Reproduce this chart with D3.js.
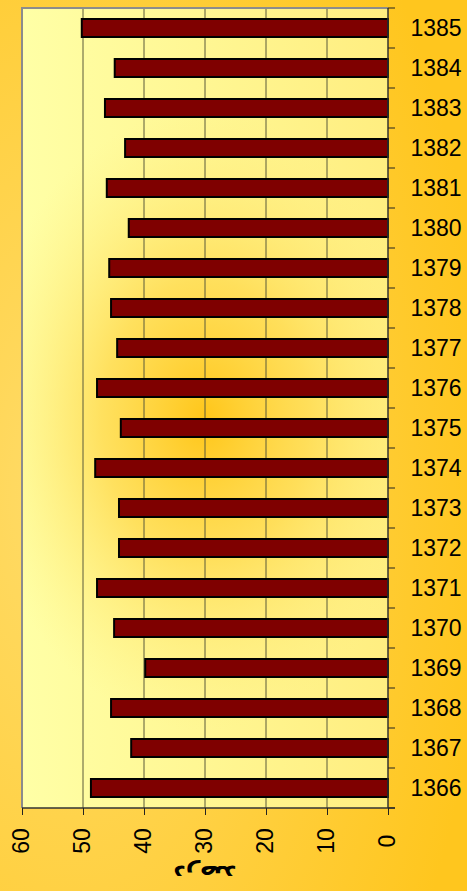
<!DOCTYPE html>
<html>
  <head>
    <style>
      body { margin: 0; }
      svg { display: block; }
      .tick-label { font: 23px "Liberation Sans", Arial, sans-serif; fill: #000; }
      .bar { fill: #7f0000; stroke: #000; stroke-width: 2; }
    </style>
  </head>
  <body>
    <script src="https://d3js.org/d3.v7.min.js"></script>
    <svg></svg>
    <script>
      // years, bottom to top
      const years = [1366, 1367, 1368, 1369, 1370, 1371, 1372, 1373, 1374, 1375,
                     1376, 1377, 1378, 1379, 1380, 1381, 1382, 1383, 1384, 1385];
      const values = [48.7, 42.1, 45.4, 39.8, 44.9, 47.7, 44.1, 44.1, 48.0, 43.8,
                      47.7, 44.4, 45.4, 45.7, 42.5, 46.1, 43.1, 46.4, 44.8, 50.2];
      const xTicks = [0, 10, 20, 30, 40, 50, 60];
      const axisTitle = "درصد";

      const W = 467, H = 891;
      const plot = { left: 22, right: 388, top: 8, bottom: 808 };

      const svg = d3.select("svg").attr("width", W).attr("height", H);
      const defs = svg.append("defs");

      // outer background
      const bg = defs.append("radialGradient").attr("id", "bg")
        .attr("cx", "0.15").attr("cy", "0.55").attr("r", "0.9");
      bg.append("stop").attr("offset", "0").attr("stop-color", "#ffdc6a");
      bg.append("stop").attr("offset", "1").attr("stop-color", "#ffc61e");
      svg.append("rect").attr("width", W).attr("height", H).attr("fill", "url(#bg)");

      // plot area: pale yellow, warmer to the right, orange glow in the middle
      const pa = defs.append("linearGradient").attr("id", "pa");
      pa.append("stop").attr("offset", "0").attr("stop-color", "#ffffa6");
      pa.append("stop").attr("offset", "1").attr("stop-color", "#ffee80");
      const glow = defs.append("radialGradient").attr("id", "glow")
        .attr("gradientUnits", "userSpaceOnUse")
        .attr("cx", 205).attr("cy", 420).attr("r", 230)
        .attr("gradientTransform", "translate(205,420) scale(1,1.35) translate(-205,-420)");
      glow.append("stop").attr("offset", "0").attr("stop-color", "#ffc619").attr("stop-opacity", 1);
      glow.append("stop").attr("offset", "0.45").attr("stop-color", "#ffd84a").attr("stop-opacity", 0.75);
      glow.append("stop").attr("offset", "1").attr("stop-color", "#ffee80").attr("stop-opacity", 0);

      const pw = plot.right - plot.left, ph = plot.bottom - plot.top;
      svg.append("rect").attr("x", plot.left).attr("y", plot.top)
        .attr("width", pw).attr("height", ph).attr("fill", "url(#pa)");
      svg.append("rect").attr("x", plot.left).attr("y", plot.top)
        .attr("width", pw).attr("height", ph).attr("fill", "url(#glow)");

      const x = d3.scaleLinear().domain([60, 0]).range([plot.left, plot.right]);
      const y = d3.scaleBand().domain(years.slice().reverse())
        .range([plot.top, plot.bottom]).paddingInner(0.55).paddingOuter(0.275);
      const yb = d3.scaleBand().domain(years.slice().reverse())
        .range([plot.top, plot.bottom]);

      // gridlines
      svg.append("g").selectAll("line")
        .data(xTicks.filter(d => d > 0 && d < 60))
        .join("line")
        .attr("x1", d => x(d)).attr("x2", d => x(d))
        .attr("y1", plot.top).attr("y2", plot.bottom)
        .attr("stroke", "#5a5a3a").attr("stroke-width", 1);

      // plot border (left/top gray)
      svg.append("path")
        .attr("d", `M${plot.left},${plot.bottom}V${plot.top}H${plot.right}`)
        .attr("fill", "none").attr("stroke", "#8c8c8c").attr("stroke-width", 2);

      // bars
      svg.append("g").selectAll("rect")
        .data(years.map((yr, i) => ({ yr, v: values[i] })))
        .join("rect")
        .attr("class", "bar")
        .attr("x", d => x(d.v))
        .attr("y", d => y(d.yr))
        .attr("width", d => x(0) - x(d.v))
        .attr("height", y.bandwidth());

      // bottom axis
      const xAxis = svg.append("g")
        .attr("transform", `translate(0,${plot.bottom})`)
        .call(d3.axisBottom(x).tickValues(xTicks).tickSize(7).tickSizeOuter(0).tickFormat(""));
      xAxis.select(".domain").attr("stroke", "#333").attr("stroke-width", 1.5)
        .attr("d", `M${plot.left},0H${plot.right + 7}`);
      xAxis.selectAll(".tick line").attr("stroke", "#222");

      svg.append("g").selectAll("text")
        .data(xTicks)
        .join("text")
        .attr("class", "tick-label")
        .attr("transform", d => `translate(${x(d) + 7},841) rotate(-90)`)
        .attr("text-anchor", "middle")
        .text(d => d);

      // right axis
      const bounds = years.map(yr => yb(yr)).concat([plot.bottom]);
      svg.append("line")
        .attr("x1", plot.right).attr("x2", plot.right)
        .attr("y1", plot.top).attr("y2", plot.bottom)
        .attr("stroke", "#333").attr("stroke-width", 1.5);
      svg.append("g").selectAll("line")
        .data(bounds)
        .join("line")
        .attr("x1", plot.right).attr("x2", plot.right + 7)
        .attr("y1", d => d).attr("y2", d => d)
        .attr("stroke", "#222");

      svg.append("g").selectAll("text")
        .data(years)
        .join("text")
        .attr("class", "tick-label")
        .attr("x", 436)
        .attr("y", d => yb(d) + yb.bandwidth() / 2 + 8)
        .attr("text-anchor", "middle")
        .text(d => d);

      // axis title (drawn upside down, as in the source)
      svg.append("text")
        .attr("transform", "translate(205,866) rotate(180)")
        .attr("text-anchor", "middle")
        .style("font", "bold 24px 'DejaVu Sans', sans-serif")
        .text(axisTitle);
    </script>
  </body>
</html>
